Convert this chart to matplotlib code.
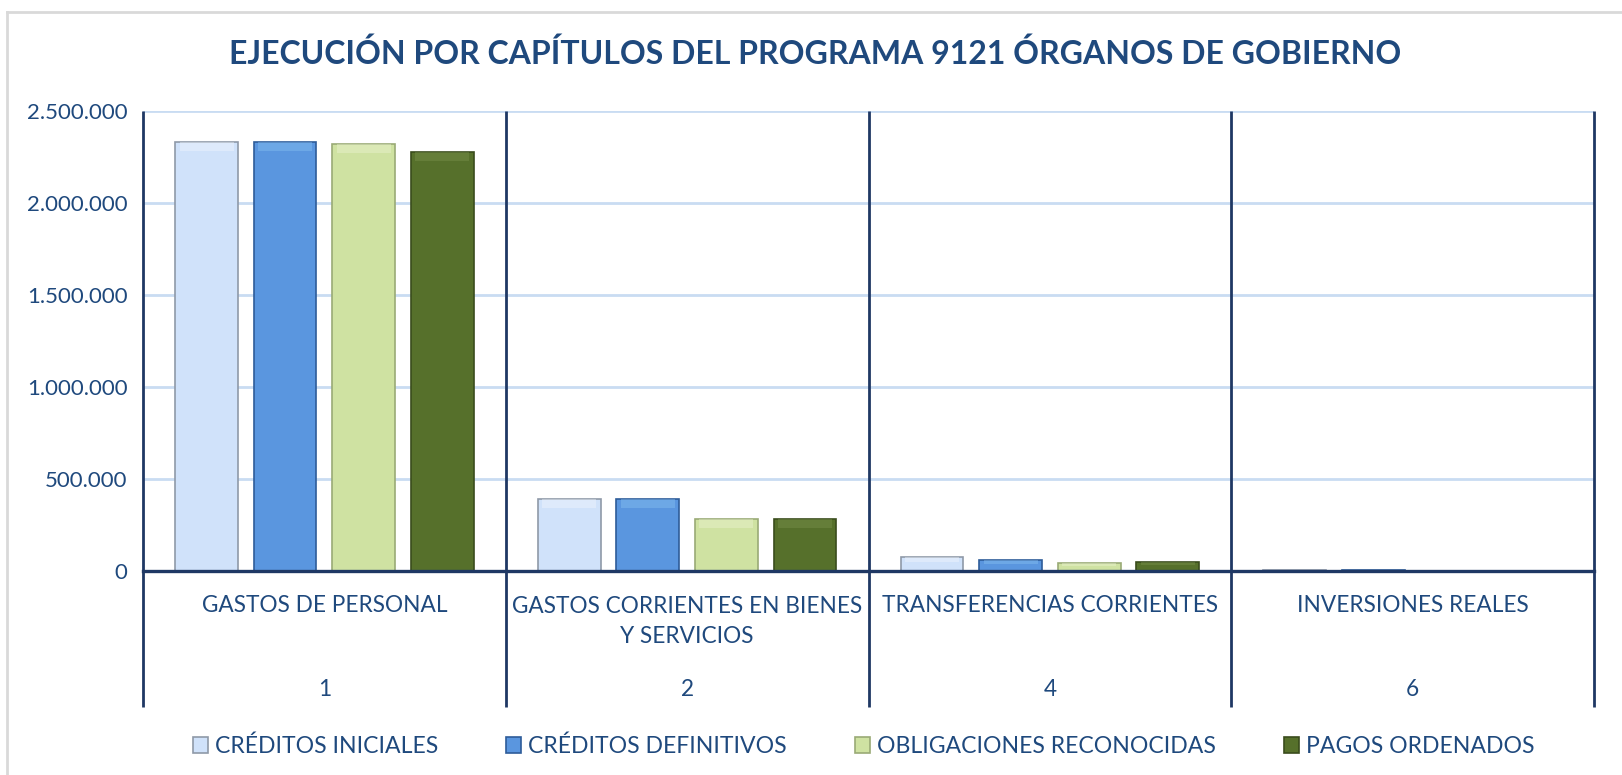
import matplotlib
matplotlib.use("Agg")
import matplotlib.pyplot as plt
from matplotlib.patches import Patch
from matplotlib.lines import Line2D
import numpy as np

plt.rcParams['font.family'] = ['Lato', 'DejaVu Sans']

title = "EJECUCIÓN POR CAPÍTULOS DEL PROGRAMA 9121 ÓRGANOS DE GOBIERNO"
categories = ["GASTOS DE PERSONAL", "GASTOS CORRIENTES EN BIENES\nY SERVICIOS",
              "TRANSFERENCIAS CORRIENTES", "INVERSIONES REALES"]
chapters = ["1", "2", "4", "6"]
series_names = ["CRÉDITOS INICIALES", "CRÉDITOS DEFINITIVOS",
                "OBLIGACIONES RECONOCIDAS", "PAGOS ORDENADOS"]
creditos_iniciales = [2330000, 391000, 74000, 8000]
creditos_definitivos = [2330000, 391000, 60000, 8000]
obligaciones_reconocidas = [2320000, 282000, 45000, 0]
pagos_ordenados = [2275000, 282000, 47000, 0]
yticks = [0, 500000, 1000000, 1500000, 2000000, 2500000]
ytick_labels = ["0", "500.000", "1.000.000", "1.500.000", "2.000.000", "2.500.000"]

series = [creditos_iniciales, creditos_definitivos, obligaciones_reconocidas, pagos_ordenados]
faces = ["#D0E2FA", "#5A96DF", "#CFE2A2", "#56702B"]
edges = ["#8F99A8", "#2E5C99", "#9AAA76", "#3A4C1C"]
highlights = ["#F4F8FE", "#8CC4F2", "#EEF6D6", "#7C9450"]

TXT = "#1F497D"
DARK = "#1F3864"
GRID = "#C9DCF2"

W, H = 1622, 775
fig = plt.figure(figsize=(W / 100, H / 100), dpi=100)
fig.patch.set_facecolor("white")

# outer chart border (top & left visible)
fig.add_artist(Line2D([7 / W, 1], [1 - 12 / H, 1 - 12 / H], color="#D9D9D9", lw=2))
fig.add_artist(Line2D([7 / W, 7 / W], [0, 1 - 12 / H], color="#D9D9D9", lw=2))

ax_l, ax_r = 143 / W, 1594 / W
ax_b, ax_t = 1 - 571 / H, 1 - 110.7 / H
ax = fig.add_axes([ax_l, ax_b, ax_r - ax_l, ax_t - ax_b])
ax.set_xlim(-0.5, 3.5)
ax.set_ylim(0, 2500000)
for s in ax.spines.values():
    s.set_visible(False)

for t in yticks[1:]:
    ax.axhline(t, color=GRID, lw=2, zorder=0)

x = np.arange(len(categories))
bw = 0.173
step = 0.2166
offsets = (np.arange(4) - 1.5) * step
hl_px = 9
px_per_unit = (571 - 110.7) / 2500000
for i, vals in enumerate(series):
    vals = np.array(vals, dtype=float)
    ax.bar(x + offsets[i], vals, width=bw, color=faces[i], edgecolor=edges[i],
           linewidth=1.2, zorder=3)
    band = np.minimum(vals * 0.35, hl_px / px_per_unit)
    ax.bar(x + offsets[i], band, bottom=vals - band, width=bw * 0.86,
           color=highlights[i], alpha=0.4, linewidth=0, zorder=4)

ax.set_yticks(yticks)
ax.set_yticklabels(ytick_labels, color=TXT, fontsize=16)
ax.tick_params(axis='y', length=0, pad=11)
ax.set_xticks([])

# zero line
ax.axhline(0, color=DARK, lw=2.4, zorder=5, clip_on=False)

# dividers extending below axes
span = 571 - 110.7
y_bottom = -(707 - 571) / span
trans = ax.get_xaxis_transform()
for xv in [-0.5, 0.5, 1.5, 2.5, 3.5]:
    ax.plot([xv, xv], [1, y_bottom], transform=trans, color=DARK, lw=2,
            clip_on=False, zorder=6, solid_capstyle='butt')

# category labels
for xi, cat, ch in zip(x, categories, chapters):
    ypix = 621.5 if "\n" in cat else 605
    ax.text(xi, -(ypix - 571) / span, cat, transform=trans, ha='center',
            va='center', color=TXT, fontsize=16.3, linespacing=1.55,
            multialignment='center')
    ax.text(xi, -(690 - 571) / span, ch, transform=trans, ha='center',
            va='center', color=TXT, fontsize=16.3)

fig.text(815 / W, 1 - 54 / H, title, ha='center', va='center', color=TXT,
         fontsize=23.0, fontweight='bold')

handles = [Patch(facecolor=faces[i], edgecolor=edges[i], linewidth=1.2) for i in range(4)]
leg = fig.legend(handles, series_names, loc='center left', bbox_to_anchor=(184 / W, 1 - 746 / H),
                 ncol=4, frameon=False, fontsize=16.6, handlelength=0.65, handleheight=0.7,
                 handletextpad=0.3, columnspacing=2.95, borderaxespad=0)
for t in leg.get_texts():
    t.set_color(TXT)

fig.savefig("out.png", dpi=100, facecolor="white")
